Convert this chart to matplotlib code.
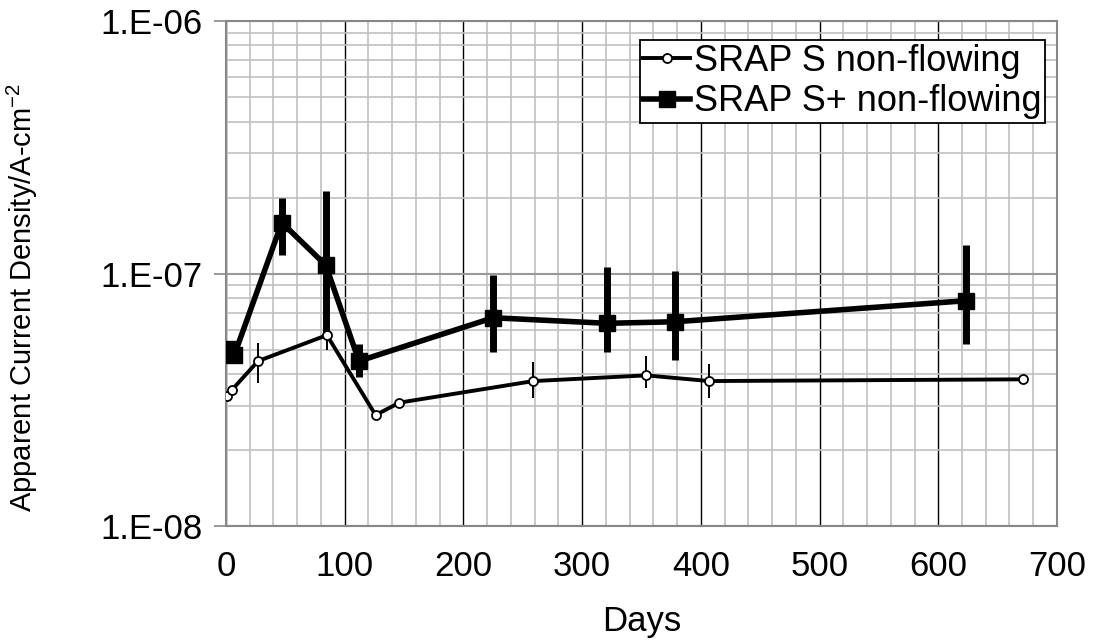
import numpy as np
import matplotlib
matplotlib.use("Agg")
import matplotlib.pyplot as plt
from matplotlib.lines import Line2D
from matplotlib.ticker import FixedLocator, FixedFormatter, NullFormatter

plt.rcParams['font.family'] = ['Liberation Sans', 'DejaVu Sans']
plt.rcParams['mathtext.fontset'] = 'custom'
plt.rcParams['mathtext.rm'] = 'Liberation Sans'
plt.rcParams['mathtext.it'] = 'Liberation Sans'

# SRAP S non-flowing
s_days = [1, 5, 27, 85, 126, 146, 259, 354, 407, 671]
s_vals = [3.27e-8, 3.46e-8, 4.5e-8, 5.7e-8, 2.75e-8, 3.08e-8, 3.75e-8, 3.95e-8, 3.75e-8, 3.81e-8]
s_hi = [3.3e-8, 3.5e-8, 5.3e-8, 6.0e-8, 2.78e-8, 3.1e-8, 4.45e-8, 4.71e-8, 4.4e-8, 3.9e-8]
s_lo = [3.2e-8, 3.4e-8, 3.7e-8, 4.98e-8, 2.72e-8, 3.05e-8, 3.22e-8, 3.51e-8, 3.2e-8, 3.7e-8]

# SRAP S+ non-flowing
sp_days = [2, 7, 47, 84, 112, 225, 321, 378, 623]
sp_vals = [5.02e-8, 4.75e-8, 1.59e-7, 1.08e-7, 4.5e-8, 6.68e-8, 6.35e-8, 6.44e-8, 7.8e-8]
sp_hi = [5.1e-8, 4.85e-8, 2.0e-7, 2.13e-7, 5.25e-8, 9.86e-8, 1.06e-7, 1.02e-7, 1.3e-7]
sp_lo = [4.95e-8, 4.65e-8, 1.18e-7, 5.6e-8, 3.88e-8, 4.9e-8, 4.9e-8, 4.54e-8, 5.26e-8]

ytick_vals = [1e-8, 1e-7, 1e-6]
ytick_labels = ['1.E-08', '1.E-07', '1.E-06']

fig = plt.figure(figsize=(10.96, 6.41), dpi=100)
ax = fig.add_axes([0.2062, 0.1794, 0.7582, 0.7878])

s_err = [np.array(s_vals) - np.array(s_lo), np.array(s_hi) - np.array(s_vals)]
sp_err = [np.array(sp_vals) - np.array(sp_lo), np.array(sp_hi) - np.array(sp_vals)]

ax.errorbar(s_days, s_vals, yerr=s_err, color='black', lw=2.8, elinewidth=1.4,
            capsize=0, marker='o', ms=6.5, mfc='white', mec='black', mew=1.3, zorder=4)
ax.errorbar(sp_days, sp_vals, yerr=sp_err, color='black', lw=4.0, elinewidth=5,
            capsize=0, marker='s', ms=11, mfc='black', mec='black', zorder=3)

ax.set_yscale('log')
ax.set_xlim(0, 700)
ax.set_ylim(1e-8, 1e-6)

ax.yaxis.set_major_locator(FixedLocator(ytick_vals))
ax.yaxis.set_major_formatter(FixedFormatter(ytick_labels))
ax.yaxis.set_minor_formatter(NullFormatter())
ax.set_xticks(np.arange(0, 701, 100))
ax.set_xticks(np.arange(0, 701, 20), minor=True)

ax.grid(which='minor', axis='both', color='#c0c0c0', lw=1.2)
ax.grid(which='major', axis='y', color='#999999', lw=1.5)
ax.grid(which='major', axis='x', color='black', lw=1.0)
ax.set_axisbelow(True)

for sp in ax.spines.values():
    sp.set_color('#888888')
    sp.set_linewidth(1.5)

ax.tick_params(axis='y', which='major', length=9, color='#888888', width=1.2, labelsize=25, pad=8)
ax.tick_params(axis='x', which='major', length=0, labelsize=25, pad=17)
ax.tick_params(which='minor', length=0)

ax.set_xlabel('Days', fontsize=25, labelpad=16)
ax.set_ylabel('Apparent Current Density/A-cm$^{-2}$', fontsize=21)
ax.yaxis.set_label_coords(-0.224, 0.453)

handles = [
    Line2D([], [], color='black', lw=2.8, marker='o', ms=6.5, mfc='white', mec='black', mew=1.3),
    Line2D([], [], color='black', lw=4.0, marker='s', ms=11, mfc='black', mec='black'),
]
leg = ax.legend(handles, ['SRAP S non-flowing', 'SRAP S+ non-flowing'],
                loc='upper right', bbox_to_anchor=(0.9856, 0.962), fontsize=26,
                frameon=True, fancybox=False, edgecolor='black', framealpha=1,
                handlelength=1.3, handletextpad=0.1, borderpad=0.1,
                labelspacing=0.15, borderaxespad=0)
leg.get_frame().set_linewidth(1.3)

fig.savefig('out.png', dpi=100)
